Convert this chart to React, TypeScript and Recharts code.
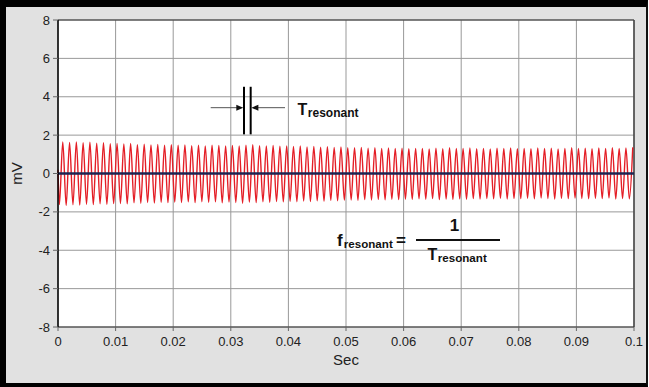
import React from "react";
import {
  LineChart,
  Line,
  XAxis,
  YAxis,
  CartesianGrid,
  ReferenceLine,
} from "recharts";

// Sampled ringing of the resonant circuit (mV).
// Extrema alternate trough / peak, starting with a trough.
const FIRST_TROUGH_SEC = 0.00024;
const HALF_PERIOD_SEC = 0.000589;
const START_VALUE = 0.2;

const troughValues = [
  -1.62, -1.66, -1.63, -1.65, -1.6, -1.62, -1.58, -1.61, -1.57,
  -1.56, -1.58, -1.53, -1.55, -1.51, -1.54, -1.5, -1.52,
  -1.49, -1.51, -1.48, -1.52, -1.47, -1.5, -1.48, -1.53, -1.49,
  -1.51, -1.55, -1.49, -1.52, -1.47, -1.5, -1.46, -1.48,
  -1.45, -1.47, -1.43, -1.46, -1.42, -1.44, -1.4, -1.42, -1.39,
  -1.38, -1.4, -1.36, -1.38, -1.35, -1.37, -1.34, -1.36,
  -1.33, -1.35, -1.32, -1.34, -1.31, -1.36, -1.33, -1.35, -1.32,
  -1.34, -1.31, -1.33, -1.3, -1.32, -1.29, -1.33, -1.3,
  -1.31, -1.29, -1.32, -1.28, -1.3, -1.33, -1.29, -1.31, -1.28,
  -1.3, -1.32, -1.29, -1.31, -1.28, -1.33, -1.3, -1.32,
];

const peakValues = [
  1.64, 1.62, 1.65, 1.6, 1.63, 1.58, 1.6, 1.55, 1.57,
  1.54, 1.56, 1.5, 1.53, 1.49, 1.52, 1.48, 1.5,
  1.47, 1.49, 1.45, 1.48, 1.44, 1.47, 1.46, 1.43, 1.46,
  1.44, 1.47, 1.5, 1.45, 1.43, 1.46, 1.42, 1.44,
  1.41, 1.43, 1.39, 1.41, 1.37, 1.4, 1.36, 1.38, 1.35,
  1.34, 1.36, 1.32, 1.35, 1.31, 1.33, 1.3, 1.32,
  1.29, 1.31, 1.3, 1.28, 1.32, 1.29, 1.34, 1.3, 1.31,
  1.33, 1.29, 1.31, 1.28, 1.32, 1.3, 1.33, 1.29,
  1.31, 1.29, 1.33, 1.3, 1.32, 1.28, 1.31, 1.34, 1.3,
  1.32, 1.29, 1.33, 1.31, 1.35, 1.3, 1.33, 1.36,
];

const xTicks = [0, 0.01, 0.02, 0.03, 0.04, 0.05, 0.06, 0.07, 0.08, 0.09, 0.1];
const yTicks = [-8, -6, -4, -2, 0, 2, 4, 6, 8];

// period marker (two bars one cycle apart) and its arrows
const periodStart = 0.03229;
const periodEnd = 0.03345;
const markerBottom = 2.04;
const markerTop = 4.52;
const arrowLevel = 3.43;
const arrowLeftFrom = 0.02651;
const arrowRightFrom = 0.03941;

const extrema: number[] = [];
troughValues.forEach((t, i) => {
  extrema.push(t);
  extrema.push(peakValues[i]);
});

const data = [
  { t: 0, v: START_VALUE },
  ...extrema.map((v, k) => ({ t: FIRST_TROUGH_SEC + k * HALF_PERIOD_SEC, v })),
];

const FONT = "'Liberation Sans', Arial, Helvetica, sans-serif";

const Arrow = (props: any) => {
  const { x1, y1, x2, y2 } = props;
  const dir = x2 > x1 ? 1 : -1;
  return (
    <g>
      <line x1={x1} y1={y1} x2={x2 - dir * 5} y2={y2} stroke="#555" strokeWidth={1} />
      <polygon
        points={`${x2},${y2} ${x2 - dir * 7},${y2 - 3} ${x2 - dir * 7},${y2 + 3}`}
        fill="#111"
      />
    </g>
  );
};

const xFormat = (v: number) => String(v);

export default function App() {
  return (
    <div
      style={{
        position: "absolute",
        left: 0,
        top: 0,
        width: 649,
        height: 387,
        background: "#fff",
      }}
    >
      <div
        style={{
          position: "absolute",
          left: 0,
          top: 0,
          width: 648,
          height: 387,
          boxSizing: "border-box",
          borderTop: "7px solid #000",
          borderLeft: "6px solid #000",
          borderRight: "2px solid #111",
          borderBottom: "4px solid #000",
          background: "#e1e1e1",
        }}
      />
      <div style={{ position: "absolute", left: 0, top: 0 }}>
        <LineChart
          width={649}
          height={387}
          data={data}
          margin={{ top: 20, right: 15, bottom: 15, left: 0 }}
        >
          <CartesianGrid stroke="#999" strokeWidth={1} fill="#fff" />
          <XAxis
            dataKey="t"
            type="number"
            domain={[0, 0.1]}
            ticks={xTicks}
            tickFormatter={xFormat}
            height={45}
            tickSize={4}
            tickMargin={6}
            axisLine={{ stroke: "#333", strokeWidth: 1.2 }}
            tickLine={{ stroke: "#666" }}
            tick={{ fill: "#222", fontSize: 13, fontFamily: FONT }}
            label={{
              content: (p: any) => {
                const vb = p.viewBox;
                return (
                  <text
                    x={vb.x + vb.width / 2}
                    y={vb.y + 38}
                    textAnchor="middle"
                    fontFamily={FONT}
                    fontSize={15}
                    fill="#222"
                  >
                    Sec
                  </text>
                );
              },
            }}
          />
          <YAxis
            type="number"
            domain={[-8, 8]}
            ticks={yTicks}
            width={58}
            tickSize={5}
            tickMargin={3}
            axisLine={{ stroke: "#000", strokeWidth: 1.5 }}
            tickLine={{ stroke: "#666" }}
            tick={{ fill: "#222", fontSize: 13, fontFamily: FONT }}
            label={{
              content: (p: any) => {
                const vb = p.viewBox;
                const cx = vb.x + 22;
                const cy = vb.y + vb.height / 2;
                return (
                  <text
                    x={cx}
                    y={cy}
                    textAnchor="middle"
                    fontFamily={FONT}
                    fontSize={15}
                    fill="#222"
                    transform={`rotate(-90, ${cx}, ${cy})`}
                  >
                    mV
                  </text>
                );
              },
            }}
          />
          <ReferenceLine y={8} stroke="#333" strokeWidth={1.2} />
          <ReferenceLine x={0.1} stroke="#444" strokeWidth={1.5} />
          <Line
            type="monotone"
            dataKey="v"
            stroke="#e41e26"
            strokeWidth={1.4}
            dot={false}
            activeDot={false}
            isAnimationActive={false}
          />
          <ReferenceLine y={0} stroke="#1c2452" strokeWidth={2.5} />
          <ReferenceLine
            segment={[
              { x: periodStart, y: markerBottom },
              { x: periodStart, y: markerTop },
            ]}
            stroke="#000"
            strokeWidth={2}
          />
          <ReferenceLine
            segment={[
              { x: periodEnd, y: markerBottom },
              { x: periodEnd, y: markerTop },
            ]}
            stroke="#000"
            strokeWidth={2}
          />
          <ReferenceLine
            segment={[
              { x: arrowLeftFrom, y: arrowLevel },
              { x: periodStart - 0.00012, y: arrowLevel },
            ]}
            shape={Arrow}
          />
          <ReferenceLine
            segment={[
              { x: arrowRightFrom, y: arrowLevel },
              { x: periodEnd + 0.00012, y: arrowLevel },
            ]}
            shape={Arrow}
          />
        </LineChart>
      </div>
      <svg
        width={649}
        height={387}
        style={{ position: "absolute", left: 0, top: 0, pointerEvents: "none" }}
        fontFamily={FONT}
        fontWeight="bold"
        fill="#111"
      >
        <text x={297.5} y={115} fontSize={16}>T</text>
        <text x={307.8} y={117} fontSize={12}>resonant</text>

        <text x={337} y={246} fontSize={17}>f</text>
        <text x={343.8} y={248} fontSize={11.6}>resonant</text>
        <text x={396} y={246} fontSize={17}>=</text>
        <text x={454.5} y={231} fontSize={17} textAnchor="middle">1</text>
        <line x1={416} y1={240} x2={500} y2={240} stroke="#111" strokeWidth={2} />
        <text x={427.5} y={259.5} fontSize={16}>T</text>
        <text x={437.8} y={261.7} fontSize={11.6}>resonant</text>
      </svg>
    </div>
  );
}
